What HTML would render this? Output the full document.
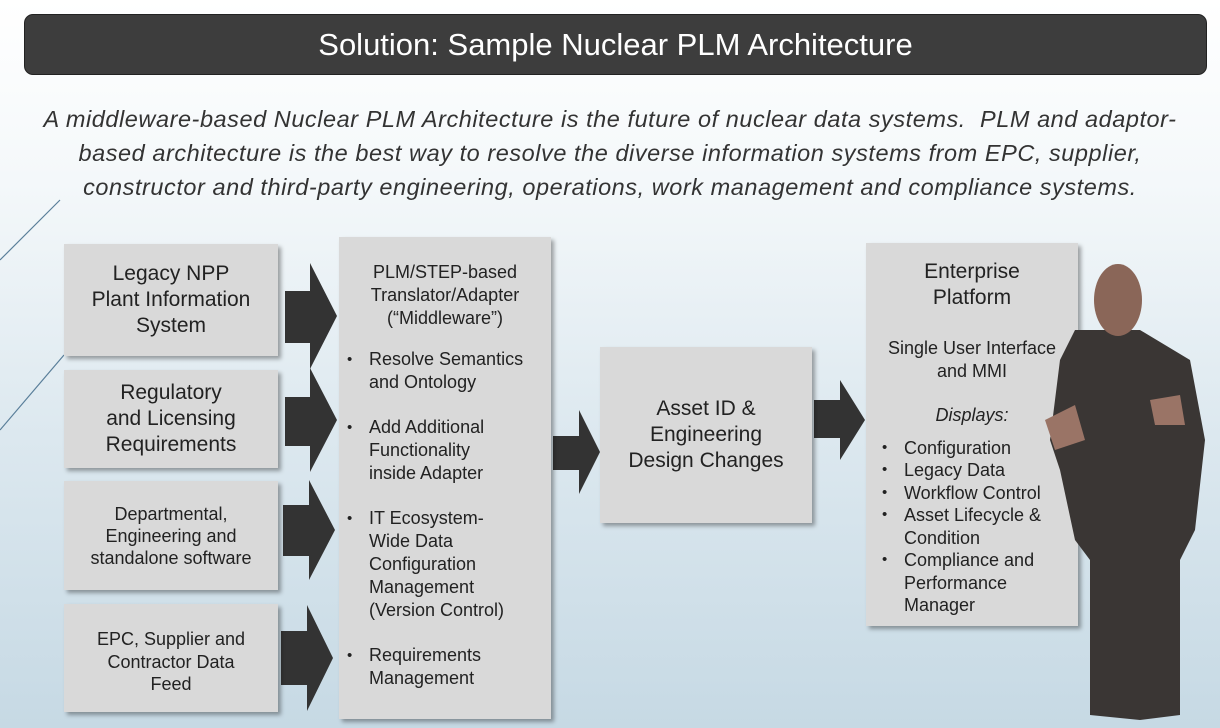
<!DOCTYPE html>
<html><head><meta charset="utf-8"><style>
body{margin:0;width:1220px;height:728px;overflow:hidden;position:relative;font-family:"Liberation Sans",sans-serif;color:#222;
background:linear-gradient(#ffffff 0%,#f4f8fa 25%,#dce8ef 60%,#c6d9e4 100%);}
.t{position:absolute;left:24px;top:14px;width:1183px;height:61px;background:#3d3d3d;border-radius:9px;color:#fff;font-size:31px;text-align:center;line-height:60px;border:1px solid #222;box-sizing:border-box}
.sub{position:absolute;left:0;width:1220px;top:102px;text-align:center;font-style:italic;font-size:23.5px;line-height:34px;color:#333;letter-spacing:0.55px}
.b{position:absolute;background:#d9d9d9;box-shadow:3px 3px 4px rgba(0,0,0,.35);box-sizing:border-box;text-align:center;color:#222}
.c{display:flex;align-items:center;justify-content:center;font-size:21px;line-height:26px}
ul{margin:0;padding:0 0 0 30px;text-align:left;list-style:none}
li{position:relative}
li:before{content:"•";position:absolute;left:-22px;font-size:15px}
svg{position:absolute;left:0;top:0}
</style></head><body>
<div class="t">Solution: Sample Nuclear PLM Architecture</div>
<div class="sub">A middleware-based Nuclear PLM Architecture is the future of nuclear data systems.&nbsp; PLM and adaptor-<br>based architecture is the best way to resolve the diverse information systems from EPC, supplier,<br>constructor and third-party engineering, operations, work management and compliance systems.</div>
<svg width="1220" height="728">
<path d="M0 260 L60 200 M0 430 L64 355" stroke="#5a7f9a" stroke-width="1.2" fill="none"/>
<g fill="#333">
<path d="M285 291H310V263L337 316L310 369V343H285Z"/>
<path d="M285 397H310V368L337 420L310 472V446H285Z"/>
<path d="M283 505H309V480L335 530L309 580V556H283Z"/>
<path d="M281 631H307V605L333 658L307 711V685H281Z"/>
<path d="M553 436H579V410L600 452L579 494V470H553Z"/>
<path d="M814 400H840V380L865 420L840 460V438H814Z"/>
</g>
</svg>
<div class="b c" style="left:64px;top:244px;width:214px;height:112px">Legacy NPP<br>Plant Information<br>System</div>
<div class="b c" style="left:64px;top:370px;width:214px;height:98px">Regulatory<br>and Licensing<br>Requirements</div>
<div class="b c" style="left:64px;top:481px;width:214px;height:109px;font-size:18px;line-height:22px">Departmental,<br>Engineering and<br>standalone software</div>
<div class="b c" style="left:64px;top:604px;width:214px;height:108px;font-size:18px;line-height:22.5px;padding-top:8px">EPC, Supplier and<br>Contractor Data<br>Feed</div>
<div class="b" style="left:339px;top:237px;width:212px;height:482px;font-size:18px;line-height:23px;padding-top:24px">
PLM/STEP-based<br>Translator/Adapter<br>(“Middleware”)
<ul style="margin-top:18px"><li>Resolve Semantics<br>and Ontology</li><li style="margin-top:22px">Add Additional<br>Functionality<br>inside Adapter</li><li style="margin-top:22px">IT Ecosystem-<br>Wide Data<br>Configuration<br>Management<br>(Version Control)</li><li style="margin-top:22px">Requirements<br>Management</li></ul></div>
<div class="b c" style="left:600px;top:347px;width:212px;height:176px">Asset ID &amp;<br>Engineering<br>Design Changes</div>
<div class="b" style="left:866px;top:243px;width:212px;height:383px;font-size:18px;line-height:22.5px;padding-top:16px">
<div style="font-size:21px;line-height:26px">Enterprise<br>Platform</div>
<div style="margin-top:26px">Single User Interface<br>and MMI</div>
<div style="margin-top:22px;font-style:italic">Displays:</div>
<ul style="margin-top:10px;padding-left:38px"><li>Configuration</li><li>Legacy Data</li><li>Workflow Control</li><li>Asset Lifecycle &amp;<br>Condition</li><li>Compliance and<br>Performance<br>Manager</li></ul></div>
<svg width="1220" height="728" style="pointer-events:none">
<g fill="#3a3634"><path d="M1075 330L1140 330L1190 360L1205 440L1195 530L1180 560L1180 715L1140 720L1090 715L1090 560L1075 540L1060 470L1050 440L1060 360Z"/></g>
<ellipse cx="1118" cy="300" rx="24" ry="36" fill="#8a6658"/>
<path d="M1045 420L1075 405L1085 440L1055 450Z M1150 400L1180 395L1185 425L1155 425Z" fill="#9a7466"/>
</svg>
</body></html>
